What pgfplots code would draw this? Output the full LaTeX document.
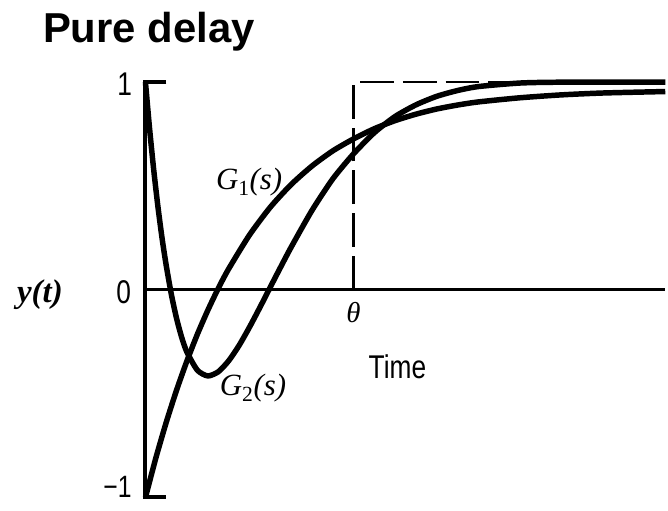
\documentclass[border=0pt]{standalone}
\usepackage{pgfplots}
\pgfplotsset{compat=1.18}
\usepackage{fontspec}
\setmainfont{Liberation Serif}
\newfontfamily\titlefont{Liberation Sans}
\newfontfamily\condsans[FakeStretch=0.8]{Liberation Sans}

\begin{document}
\begin{tikzpicture}
\begin{axis}[
  x=209pt, y=208.5pt,
  xmin=-0.699, xmax=2.498,
  ymin=-1.065, ymax=1.396,
  enlargelimits=false,
  hide axis,
  clip=false,
]
% frame of the page
\path (axis cs:-0.699,-1.065) rectangle (axis cs:2.498,1.396);

% vertical axis with end serifs
\addplot[black, line width=4pt, line join=miter] coordinates {
  (0.1,1) (0,1) (0,-1) (0.1,-1)
};
% time axis
\addplot[black, line width=3pt] coordinates { (0,0) (2.498,0) };
% pure delay step
\addplot[black, line width=2.2pt, dash pattern=on 34pt off 9pt] coordinates {
  (1,0) (1,1) (2.498,1)
};

% G1(s)
\addplot[black, line width=5.5pt, smooth, tension=0.4] coordinates {
  (0,-1) (0.05,-0.810) (0.1,-0.638) (0.15,-0.482) (0.2,-0.341)
  (0.25,-0.213) (0.3,-0.098) (0.35,0.007) (0.4,0.101) (0.5,0.264)
  (0.6,0.398) (0.7,0.507) (0.8,0.596) (0.9,0.669) (1.0,0.727)
  (1.1,0.776) (1.2,0.815) (1.3,0.846) (1.4,0.871) (1.5,0.890)
  (1.6,0.905) (1.8,0.925) (2.0,0.939) (2.2,0.948) (2.498,0.955)
};
% G2(s)
\addplot[black, line width=5.5pt, smooth, tension=0.4] coordinates {
  (0,1) (0.02,0.774) (0.04,0.575) (0.06,0.400) (0.08,0.247)
  (0.1,0.116) (0.125,-0.025) (0.15,-0.140) (0.175,-0.232) (0.2,-0.302)
  (0.25,-0.388) (0.3,-0.415) (0.35,-0.395) (0.4,-0.342) (0.45,-0.268)
  (0.5,-0.180) (0.55,-0.085) (0.6,0.013) (0.65,0.110) (0.7,0.205)
  (0.8,0.382) (0.9,0.534) (1.0,0.655) (1.1,0.757) (1.2,0.835)
  (1.3,0.891) (1.4,0.932) (1.5,0.960) (1.6,0.979) (1.8,0.996)
  (2.0,1.0) (2.498,1.0)
};

% texts
\node[anchor=base west, inner sep=0pt, font=\titlefont\bfseries\fontsize{42}{44}\selectfont]
  at (axis cs:-0.493,1.189) {Pure delay};
\node[inner sep=0pt, font=\bfseries\itshape\fontsize{33}{35}\selectfont]
  at (axis cs:-0.507,-0.024) {y(t)};
\node[inner sep=0pt, font=\condsans\fontsize{33}{35}\selectfont]
  at (axis cs:-0.100,0.988) {1};
\node[inner sep=0pt, font=\condsans\fontsize{33}{35}\selectfont]
  at (axis cs:-0.105,-0.010) {0};
\node[inner sep=0pt, font=\condsans\fontsize{31}{33}\selectfont]
  at (axis cs:-0.134,-0.950) {−1};
\node[inner sep=0pt, font=\itshape\fontsize{29}{31}\selectfont]
  at (axis cs:1.0,-0.110) {θ};
\node[anchor=west, inner sep=0pt, font=\condsans\fontsize{33}{35}\selectfont]
  at (axis cs:1.072,-0.369) {Time};
\node[inner sep=0pt, font=\fontsize{31}{33}\selectfont]
  at (axis cs:0.498,0.518) {\itshape G\textsubscript{\upshape 1}(s)};
\node[inner sep=0pt, font=\fontsize{31}{33}\selectfont]
  at (axis cs:0.517,-0.475) {\itshape G\textsubscript{\upshape 2}(s)};
\end{axis}
\end{tikzpicture}
\end{document}
